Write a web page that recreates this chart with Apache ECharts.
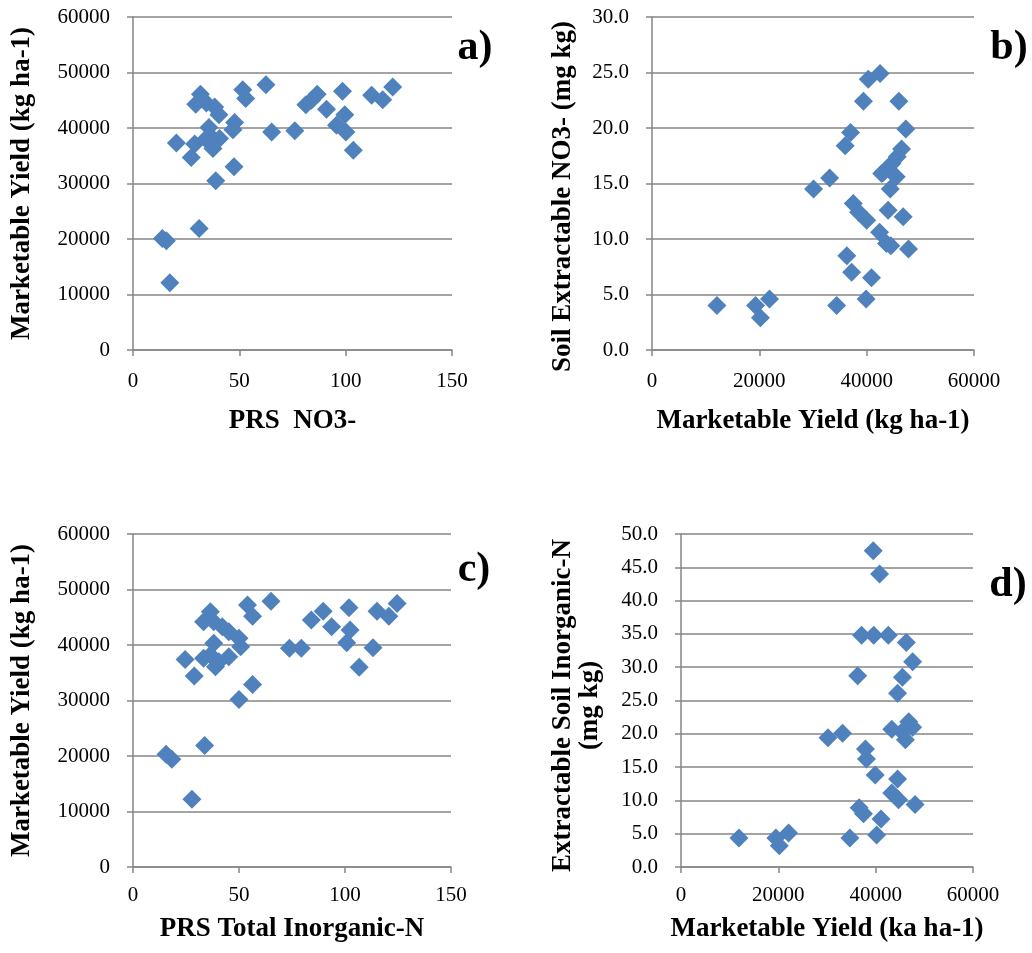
<!DOCTYPE html>
<html><head><meta charset="utf-8">
<script src="https://cdn.jsdelivr.net/npm/echarts@6/dist/echarts.min.js"></script>
<style>html,body{margin:0;padding:0;background:#fff}#c{width:1032px;height:953px}</style>
</head><body><div id="c"></div>
<script>
// Panel a: PRS NO3- vs Marketable Yield
const aX = [13.8,15.7,17.3,31.1,20.4,27.4,29.0,31.7,29.5,34.5,38.4,40.4,35.7,34.2,37.6,40.7,38.9,47.5,47.8,47.0,51.6,53.0,62.5,65.2,76.1,81.3,83.9,86.6,91.0,98.5,99.6,95.7,100.1,103.6,112.2,117.4,122.1,36.5];
const aY = [20100,19700,12100,21900,37300,34700,37100,46100,44300,44500,43800,42400,40100,38000,36300,38100,30500,33000,41000,39700,46900,45300,47800,39300,39500,44200,45000,46100,43400,46600,42400,40500,39300,36000,45900,45100,47400,38500];
// Panel b: Marketable Yield vs Soil Extractable NO3-
const bX = [12100,19300,20200,21900,34400,39900,36300,37200,40900,30100,33100,36000,37000,39400,40300,42500,46000,47300,37500,38500,40000,42400,43700,44500,44000,46800,47800,43100,44400,45500,44700,45700,46500,42800];
const bY = [4.0,4.0,2.9,4.6,4.0,4.6,8.5,7.0,6.5,14.5,15.5,18.4,19.6,22.4,24.4,24.9,22.4,19.9,13.2,12.4,11.7,10.6,9.6,9.4,12.6,12.0,9.1,16.0,14.5,15.6,16.8,17.4,18.1,15.9];
// Panel c: PRS Total Inorganic-N vs Marketable Yield
const cX = [15.6,18.3,33.8,27.8,24.6,28.9,50.0,56.4,65.1,54.0,56.4,73.8,79.4,84.1,89.7,93.7,101.9,102.4,100.8,106.7,113.2,115.1,120.7,124.6,36.5,33.3,38.1,42.1,45.2,38.1,50.0,50.8,33.3,36.5,40.5,45.2,38.9];
const cY = [20300,19400,21900,12200,37400,34400,30200,32900,47900,47200,45200,39400,39400,44500,46100,43300,46700,42700,40400,36000,39500,46100,45200,47500,46000,44200,44200,43300,42400,40300,41200,39700,37600,38200,37000,37900,36100];
// Panel d: Marketable Yield vs Extractable Soil Inorganic-N
const dX = [11900,19500,20200,22100,34700,40200,41100,36600,37500,30200,33200,37900,38100,39900,44500,43300,44700,48100,36300,37100,39600,42600,46300,47600,45500,44500,43300,46800,47600,46100,45400,39500,40800];
const dY = [4.35,4.35,3.2,5.1,4.35,4.8,7.2,8.9,8.0,19.4,20.1,17.7,16.2,13.8,13.2,11.1,10.1,9.4,28.7,34.8,34.8,34.8,33.7,30.8,28.5,26.1,20.7,21.8,21.0,19.1,20.3,47.5,44.0];

const panelLetters = ['a)','b)','c)','d)'];
const xTitles = ['PRS  NO3-','Marketable Yield (kg ha-1)','PRS Total Inorganic-N','Marketable Yield (ka ha-1)'];
const yTitles = ['Marketable Yield (kg ha-1)','Soil Extractable NO3- (mg kg)','Marketable Yield (kg ha-1)','Extractable Soil Inorganic-N\n(mg kg)'];

const FONT = '"Liberation Serif", "Times New Roman", serif';
const GRAY = '#868686';
const BLUE = '#4F81BD';
const zip = (xs, ys) => xs.map((v, i) => [v, ys[i]]);

const grids = [
  {left:133, top:17, width:319, height:333, outerBoundsMode:'none'},
  {left:652, top:17, width:322, height:333, outerBoundsMode:'none'},
  {left:133, top:534, width:318, height:333, outerBoundsMode:'none'},
  {left:681, top:534, width:292, height:333, outerBoundsMode:'none'}
];
const xCfg = [
  {min:0,max:150,interval:50, margin:21, gap:58},
  {min:0,max:60000,interval:20000, margin:21, gap:58},
  {min:0,max:150,interval:50, margin:18, gap:49},
  {min:0,max:60000,interval:20000, margin:18, gap:49}
];
const yCfg = [
  {min:0,max:60000,interval:10000, fmt:v=>String(v), gap:97, pad:0},
  {min:0,max:30,interval:5, fmt:v=>v.toFixed(1), gap:75, pad:26},
  {min:0,max:60000,interval:10000, fmt:v=>String(v), gap:97, pad:0},
  {min:0,max:50,interval:5, fmt:v=>v.toFixed(1), gap:77, pad:10}
];

const xAxis = xCfg.map((c,i)=>({
  type:'value', gridIndex:i, min:c.min, max:c.max, interval:c.interval,
  name:xTitles[i], nameLocation:'middle', nameGap:c.gap,
  nameTextStyle:{fontFamily:FONT, fontWeight:'bold', fontSize:27, color:'#000'},
  axisLine:{show:true, onZero:false, lineStyle:{color:GRAY, width:1.5}},
  axisTick:{show:true, inside:false, length:6, lineStyle:{color:GRAY, width:1.5}},
  axisLabel:{fontFamily:FONT, fontSize:21, color:'#000', margin:c.margin, formatter:v=>String(v)},
  splitLine:{show:false}
}));
const yAxis = yCfg.map((c,i)=>({
  type:'value', gridIndex:i, min:c.min, max:c.max, interval:c.interval,
  name:yTitles[i], nameLocation:'middle', nameGap:c.gap, nameRotate:90,
  nameTextStyle:{fontFamily:FONT, fontWeight:'bold', fontSize:27, color:'#000', lineHeight:27, padding:[0,c.pad,0,0]},
  axisLine:{show:true, onZero:false, lineStyle:{color:GRAY, width:1.5}},
  axisTick:{show:true, inside:false, length:6, lineStyle:{color:GRAY, width:1.5}},
  axisLabel:{fontFamily:FONT, fontSize:21, color:'#000', margin:23, formatter:c.fmt},
  splitLine:{show:true, lineStyle:{color:GRAY, width:1.5}}
}));
const datasets = [zip(aX,aY), zip(bX,bY), zip(cX,cY), zip(dX,dY)];
const series = datasets.map((d,i)=>({
  type:'scatter', xAxisIndex:i, yAxisIndex:i, data:d,
  symbol:'diamond', symbolSize:19, itemStyle:{color:BLUE, opacity:1},
  animation:false
}));
const letterPos = [[475,48],[1009,48],[474,570],[1008,585]];
const graphic = panelLetters.map((t,i)=>({
  type:'text', x:letterPos[i][0], y:letterPos[i][1],
  style:{text:t, fontFamily:FONT, fontWeight:'bold', fontSize:42, fill:'#000', align:'center', verticalAlign:'middle'}
}));

const chart = echarts.init(document.getElementById('c'), null, {renderer:'canvas'});
chart.setOption({animation:false, backgroundColor:'#fff', grid:grids, xAxis, yAxis, series, graphic});
</script></body></html>
